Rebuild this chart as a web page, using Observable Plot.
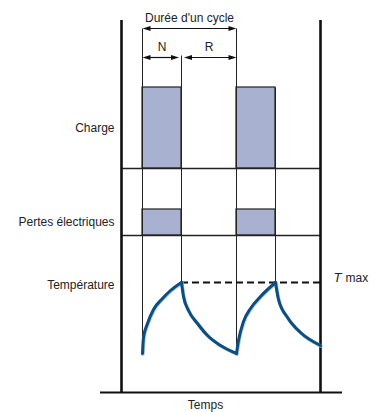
<!DOCTYPE html>
<html>
<head>
<meta charset="utf-8">
<script src="https://cdn.jsdelivr.net/npm/d3@7"></script>
<script src="https://cdn.jsdelivr.net/npm/@observablehq/plot@0.6"></script>
<style>
  html, body { margin: 0; padding: 0; background: #fff; }
  #chart svg { display: block; font-family: "Liberation Sans", Arial, sans-serif; }
</style>
</head>
<body>
<div id="chart"></div>
<script>
// ---- Data (time units from the left axis; values in arbitrary level units) ----
const onStart = [21, 115];          // start of each "N" period
const onEnd = [60, 154];            // end of each "N" period (start of "R")
const timeEnd = 199;                // right edge of the diagram
const timeAxisExtent = [-21, 221];  // extent of the "Temps" baseline
const axisTop = 372;

const rowLabels = ["Charge", "Pertes électriques", "Température"];
const chargeLevels = [224, 305];    // baseline, bar top
const lossLevels = [157, 183];      // baseline, bar top
const tMax = 110;

const heat1T = [21, 22, 26, 32, 41, 49, 60];
const heat1V = [39, 55, 69, 83, 94, 102, 110];
const cool1T = [60, 62, 67, 76, 86, 99, 115];
const cool1V = [110, 96, 82, 69, 57, 47, 39];
const heat2T = [115, 117, 122, 129, 139, 154];
const heat2V = [39, 52, 71, 84, 96, 110];
const cool2T = [154, 157, 166, 179, 199];
const cool2V = [110, 93, 75, 60, 47];

const dimLabels = ["Durée d'un cycle", "N", "R"];

// ---- Derived tables ----
const segs = [["h1", heat1T, heat1V], ["c1", cool1T, cool1V], ["h2", heat2T, heat2V], ["c2", cool2T, cool2V]];
const temp = segs.flatMap(([id, T, V]) => T.map((t, i) => ({seg: id, t, v: V[i]})));
const bars = onStart.flatMap((s, i) => [
  {x1: s, x2: onEnd[i], y1: chargeLevels[0], y2: chargeLevels[1]},
  {x1: s, x2: onEnd[i], y1: lossLevels[0], y2: lossLevels[1]}
]);
const cycleLevel = 364, nrLevel = 335;
const dims = [
  {label: dimLabels[0], from: onStart[0], to: onStart[1], level: cycleLevel, gapL: 0, gapR: 0},
  {label: dimLabels[1], from: onStart[0], to: onEnd[0], level: nrLevel, gapL: 0, gapR: 2.5},
  {label: dimLabels[2], from: onEnd[0], to: onStart[1], level: nrLevel, gapL: 2.5, gapR: 0}
];
const heads = dims.flatMap(d => [
  {x: d.from + d.gapL, y: d.level, dir: "left"},
  {x: d.to - d.gapR, y: d.level, dir: "right"}
]);
const guides = [
  {x: onStart[0], y1: cycleLevel, y2: heat1V[0]},
  {x: onEnd[0], y1: nrLevel + 2, y2: tMax},
  {x: onStart[1], y1: cycleLevel, y2: heat2V[0]},
  {x: onEnd[1], y1: chargeLevels[1], y2: tMax}
];
const rows = [
  {label: rowLabels[0], y: (chargeLevels[0] + chargeLevels[1]) / 2},
  {label: rowLabels[1], y: (lossLevels[0] + lossLevels[1]) / 2},
  {label: rowLabels[2], y: tMax - 3}
];

const headRight = {draw(ctx) { ctx.moveTo(0, 0); ctx.lineTo(-8, -2.6); ctx.lineTo(-8, 2.6); ctx.closePath(); }};
const headLeft = {draw(ctx) { ctx.moveTo(0, 0); ctx.lineTo(8, -2.6); ctx.lineTo(8, 2.6); ctx.closePath(); }};

const ink = "#111";
const chart = Plot.plot({
  width: 374,
  height: 412,
  margin: 0,
  x: {type: "linear", domain: [-121, 253], range: [0, 374], axis: null},
  y: {type: "linear", domain: [-20, 392], range: [412, 0], axis: null},
  style: {background: "#fff", fontFamily: "'Liberation Sans', Arial, sans-serif", fontSize: "12px"},
  marks: [
    // bars
    Plot.rect(bars, {x1: "x1", x2: "x2", y1: "y1", y2: "y2", fill: "#a8b2d0", stroke: "#222", strokeWidth: 1.2}),
    // guides
    Plot.link(guides, {x1: "x", x2: "x", y1: "y1", y2: "y2", stroke: "#222", strokeWidth: 1}),
    // row dividers
    Plot.ruleY([chargeLevels[0], lossLevels[0]], {x1: 0, x2: timeEnd, stroke: "#222", strokeWidth: 1.6}),
    // Tmax dashed
    Plot.ruleY([tMax], {x1: onEnd[0], x2: timeEnd, stroke: ink, strokeWidth: 2, strokeDasharray: "7,4"}),
    // axes frame
    Plot.ruleX([0, timeEnd], {y1: 0, y2: axisTop, stroke: ink, strokeWidth: 2.6}),
    Plot.ruleY([0], {x1: timeAxisExtent[0], x2: timeAxisExtent[1], stroke: ink, strokeWidth: 2}),
    // temperature curve
    Plot.line(temp, {x: "t", y: "v", z: "seg", curve: "monotone-x", stroke: "#8cbcb0", strokeWidth: 3.6, dx: 0.5, dy: 0.6, strokeOpacity: 0.7}),
    Plot.line(temp, {x: "t", y: "v", z: "seg", curve: "monotone-x", stroke: "#0d4d82", strokeWidth: 3}),
    // dimension arrows
    Plot.link(dims, {x1: d => d.from + d.gapL + 4, x2: d => d.to - d.gapR - 4, y1: "level", y2: "level", stroke: ink, strokeWidth: 1.2}),
    Plot.dot(heads.filter(d => d.dir === "right"), {x: "x", y: "y", symbol: headRight, fill: ink, stroke: "none"}),
    Plot.dot(heads.filter(d => d.dir === "left"), {x: "x", y: "y", symbol: headLeft, fill: ink, stroke: "none"}),
    Plot.text(dims, {x: d => (d.from + d.to) / 2, y: "level", dy: -10, text: "label", fill: "#222", fontSize: 12}),
    // row labels
    Plot.text(rows, {x: 0, y: "y", dx: -7, text: "label", textAnchor: "end", fill: "#222", fontSize: 12}),
    // Temps
    Plot.text(["Temps"], {x: (timeAxisExtent[0] + timeAxisExtent[1]) / 2 - 16, y: 0, dy: 13, text: d => d, fill: "#222", fontSize: 12}),
    // T max
    Plot.text(["T"], {x: timeEnd, y: tMax, dx: 13, dy: -5, text: d => d, textAnchor: "start", fontStyle: "italic", fontSize: 13, fill: "#222"}),
    Plot.text(["max"], {x: timeEnd, y: tMax, dx: 25, dy: -4, text: d => d, textAnchor: "start", fontSize: 12, fill: "#222"})
  ]
});
document.getElementById("chart").appendChild(chart);
</script>
</body>
</html>
